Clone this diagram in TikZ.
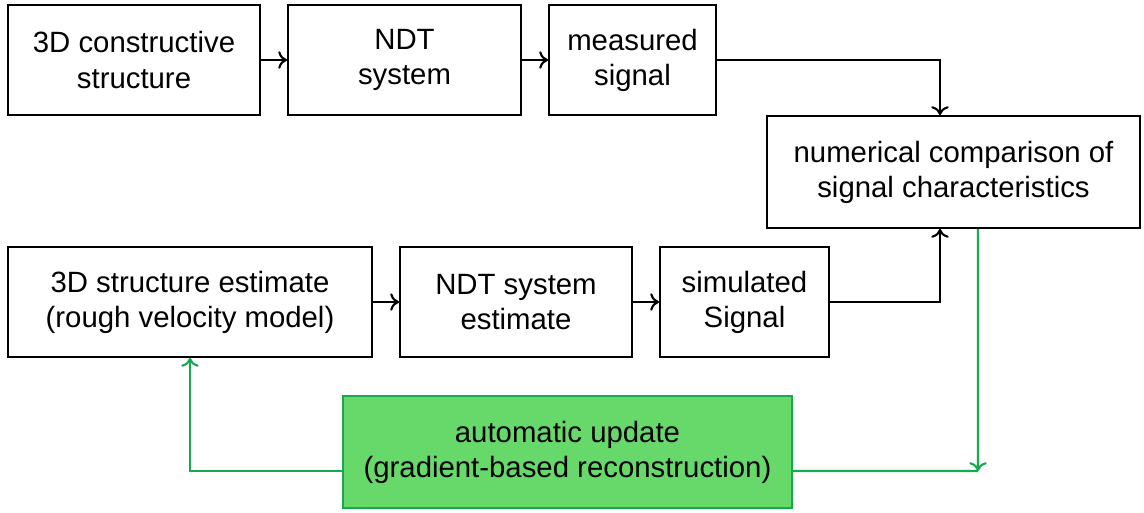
\documentclass[tikz,border=0pt]{standalone}
\usepackage{fontspec}
\setmainfont{Liberation Sans}
\usetikzlibrary{arrows.meta}
\definecolor{updfill}{RGB}{102,217,106}
\definecolor{updline}{RGB}{22,170,80}

\begin{document}
\begin{tikzpicture}
		\useasboundingbox (0,0) rectangle (22.88,10.24);
		\tikzset{Box/.style = {rectangle, draw, line width=1.1pt, align=center,
		font=\fontsize{16.7}{20}\selectfont, minimum height=2.2cm},
		Link/.style = {line width=1.2pt, ->, >={To[length=5pt,width=10pt]}},
		GLink/.style = {Link, draw=updline}}
		\node[Box, minimum width=5.04cm] (structure) at (2.68,9.04) {3D constructive\\structure};
		\node[Box, minimum width=4.66cm] (system) at (8.09,9.04) {NDT\\system};
		\node[Box, minimum width=3.34cm] (measured) at (12.65,9.04) {measured\\signal};
		\node[Box, minimum width=7.46cm, minimum height=2.24cm] (compare) at (19.07,6.8) {numerical comparison of\\signal characteristics};
		\node[Box, minimum width=7.28cm] (estimate) at (3.8,4.2) {3D structure estimate\\(rough velocity model)};
		\node[Box, minimum width=4.64cm] (sysest) at (10.32,4.2) {NDT system\\estimate};
		\node[Box, minimum width=3.38cm] (simulated) at (14.89,4.2) {simulated\\Signal};
		\node[Box, minimum width=8.98cm, minimum height=2.24cm, draw=updline, fill=updfill] (update) at (11.35,1.2) {automatic update\\(gradient-based reconstruction)};
		\coordinate (corner) at (19.56,0.82);
		% upper chain
		\draw[Link] (structure) -- (system);
		\draw[Link] (system) -- (measured);
		\draw[Link] (measured.east) -| ([xshift=-0.27cm]compare.north);
		% lower chain
		\draw[Link] (estimate) -- (sysest);
		\draw[Link] (sysest) -- (simulated);
		\draw[Link] (simulated.east) -| ([xshift=-0.27cm]compare.south);
		% feedback
		\draw[GLink] ([xshift=0.49cm]compare.south) -- (corner);
		\draw[GLink, -] ([yshift=-0.38cm]update.east) -- (corner);
		\draw[GLink] ([yshift=-0.38cm]update.west) -| (estimate.south);
	\end{tikzpicture}
\end{document}
